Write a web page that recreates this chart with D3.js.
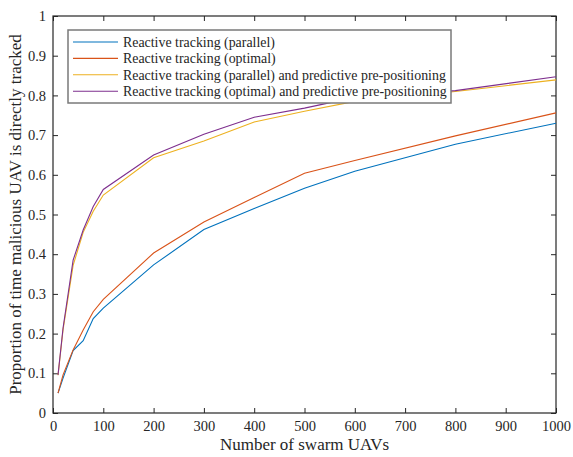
<!DOCTYPE html>
<meta charset="utf-8">
<head>
  <script src="https://d3js.org/d3.v7.min.js"></script>
  <style>
    body { margin: 0; background: #fff; }
    text { font-family: "Liberation Serif", "Times New Roman", serif; fill: #262626; }
  </style>
</head>
<body>
<div id="chart"></div>
<script>
"use strict"

// dados
var numUAVs = [10, 20, 40, 60, 80, 100, 200, 300, 400, 500, 600, 800, 1000];
var paralelo = [0.05, 0.088, 0.157, 0.182, 0.238, 0.264, 0.373, 0.462, 0.515, 0.566, 0.609, 0.677, 0.730];
var otimo = [0.05, 0.096, 0.159, 0.209, 0.255, 0.286, 0.403, 0.481, 0.543, 0.604, 0.636, 0.698, 0.756];
var paraleloPred = [0.095, 0.21, 0.372, 0.455, 0.508, 0.549, 0.643, 0.685, 0.733, 0.760, 0.785, 0.810, 0.839];
var otimoPred = [0.096, 0.214, 0.385, 0.461, 0.52, 0.563, 0.650, 0.702, 0.745, 0.768, 0.795, 0.812, 0.847];

var nomes = [
  "Reactive tracking (parallel)",
  "Reactive tracking (optimal)",
  "Reactive tracking (parallel) and predictive pre-positioning",
  "Reactive tracking (optimal) and predictive pre-positioning"
];
var cores = ["#0072BD", "#D95319", "#EDB120", "#7E2F8E"];
var xTicks = [0, 100, 200, 300, 400, 500, 600, 700, 800, 900, 1000];
var yTicks = [0, 0.1, 0.2, 0.3, 0.4, 0.5, 0.6, 0.7, 0.8, 0.9, 1];

var series = [paralelo, otimo, paraleloPred, otimoPred];

var largura = 573, altura = 457;
var margin = {top: 16, right: 17, bottom: 44, left: 53},
    larguraVis = largura - margin.left - margin.right,
    alturaVis = altura - margin.top - margin.bottom;

var svg = d3.select('#chart').append('svg')
  .attr('width', largura)
  .attr('height', altura);

var grafico = svg.append('g')
  .attr('transform', 'translate(' + margin.left + ',' + margin.top + ')');

var x = d3.scaleLinear().domain([0, 1000]).range([0, larguraVis]);
var y = d3.scaleLinear().domain([0, 1]).range([alturaVis, 0]);

var fmtY = function(d) { return d === 0 || d === 1 ? String(d) : d.toFixed(1); };

function estiloEixo(g) {
  g.attr('font-family', '"Liberation Serif", serif').attr('font-size', 14.5);
  g.select('.domain').remove();
  g.selectAll('line').attr('stroke', '#262626');
  g.selectAll('text').attr('fill', '#262626');
}

// eixos com ticks para dentro
grafico.append('g')
  .attr('transform', 'translate(0,' + alturaVis + ')')
  .call(d3.axisBottom(x).tickValues(xTicks).tickSizeInner(-5).tickSizeOuter(0).tickPadding(8).tickFormat(d3.format('d')))
  .call(estiloEixo);

grafico.append('g')
  .call(d3.axisTop(x).tickValues(xTicks).tickSizeInner(-5).tickSizeOuter(0).tickFormat(''))
  .call(estiloEixo);

grafico.append('g')
  .call(d3.axisLeft(y).tickValues(yTicks).tickSizeInner(-5).tickSizeOuter(0).tickPadding(7).tickFormat(fmtY))
  .call(estiloEixo);

grafico.append('g')
  .attr('transform', 'translate(' + larguraVis + ',0)')
  .call(d3.axisRight(y).tickValues(yTicks).tickSizeInner(-5).tickSizeOuter(0).tickFormat(''))
  .call(estiloEixo);

grafico.append('rect')
  .attr('width', larguraVis)
  .attr('height', alturaVis)
  .attr('fill', 'none')
  .attr('stroke', '#262626')
  .attr('stroke-width', 1.2);

// linhas
var linha = d3.line()
  .x(function(d, i) { return x(numUAVs[i]); })
  .y(function(d) { return y(d); });

grafico.selectAll('path.serie')
  .data(series)
  .enter()
  .append('path')
  .attr('class', 'serie')
  .attr('d', linha)
  .attr('fill', 'none')
  .attr('stroke', function(d, i) { return cores[i]; })
  .attr('stroke-width', 1.1);

// legenda
var leg = svg.append('g').attr('transform', 'translate(68,30)');
leg.append('rect')
  .attr('width', 383)
  .attr('height', 73)
  .attr('fill', '#fff')
  .attr('stroke', '#7a7a7a')
  .attr('stroke-width', 1.5);

var itens = leg.selectAll('g.item')
  .data(nomes)
  .enter()
  .append('g')
  .attr('class', 'item')
  .attr('transform', function(d, i) { return 'translate(0,' + (12 + i * 16.4) + ')'; });

itens.append('line')
  .attr('x1', 5).attr('x2', 50)
  .attr('stroke', function(d, i) { return cores[i]; })
  .attr('stroke-width', 1.1);

itens.append('text')
  .attr('x', 55)
  .attr('dy', '0.35em')
  .style('font-size', '13.9px')
  .text(function(d) { return d; });

// rótulos
svg.append('text')
  .attr('x', margin.left + larguraVis / 2)
  .attr('y', 450)
  .attr('text-anchor', 'middle')
  .style('font-size', '17px')
  .text('Number of swarm UAVs');

svg.append('text')
  .attr('transform', 'translate(21,' + (margin.top + alturaVis / 2) + ') rotate(-90)')
  .attr('text-anchor', 'middle')
  .style('font-size', '17px')
  .text('Proportion of time malicious UAV is directly tracked');
</script>
</body>
